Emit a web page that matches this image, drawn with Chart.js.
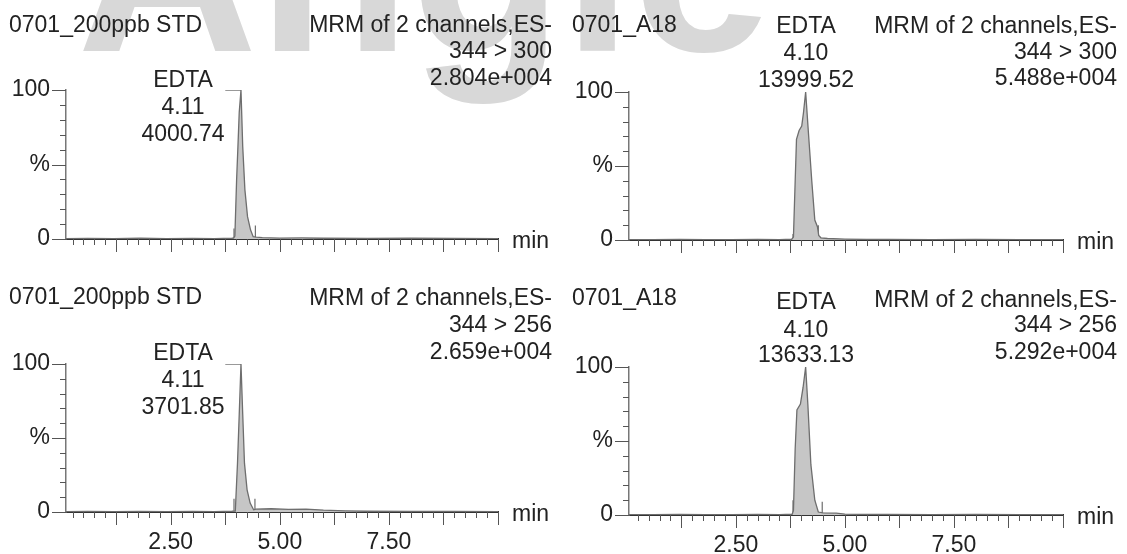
<!DOCTYPE html>
<html>
<head>
<meta charset="utf-8">
<script src="https://cdn.jsdelivr.net/npm/chart.js@4.4.1/dist/chart.umd.min.js"></script>
<style>
  body { margin: 0; background: #fff; }
  #page { position: relative; width: 1127px; height: 554px; overflow: hidden;
          font-family: "Liberation Sans", Arial, sans-serif; color: #222; }
  .panel { position: absolute; width: 564px; height: 277px; }
  .panel canvas { position: absolute; left: 0; top: 0; }
  .t { position: absolute; font-size: 23px; line-height: 23px; white-space: nowrap; }
  #mark { position: absolute; left: 77px; top: -160px; font-weight: bold;
          font-size: 250px; line-height: 250px; color: #d8d8d8; white-space: nowrap; }
</style>
</head>
<body>
<div id="page">
  <div id="mark">Angle</div>
</div>
<script>
// text of the four panels: TL, TR, BL, BR
const panelSample  = ['0701_200ppb STD', '0701_A18', '0701_200ppb STD', '0701_A18'];
const panelChannel = ['344 > 300', '344 > 300', '344 > 256', '344 > 256'];
const panelMax     = ['2.804e+004', '5.488e+004', '2.659e+004', '5.292e+004'];
const peakName     = ['EDTA', 'EDTA', 'EDTA', 'EDTA'];
const peakRT       = ['4.11', '4.10', '4.11', '4.10'];
const peakArea     = ['4000.74', '13999.52', '3701.85', '13633.13'];

// traces (time in min, intensity in %)
const stdTime300 = [0.1, 0.6, 1.2, 1.8, 2.4, 3.0, 3.5, 3.9, 3.94, 3.97, 4.01, 4.04, 4.07, 4.11, 4.15, 4.20, 4.26, 4.33, 4.39, 4.46, 4.6, 5.0, 5.5, 6.0, 7.0, 8.0, 9.0, 10.0];
const stdInt300  = [0.3, 0.4, 0.3, 0.5, 0.3, 0.4, 0.3, 0.5, 0.6, 2, 40, 62, 85, 100, 62, 33, 15, 6, 1.5, 1.2, 0.9, 0.6, 0.7, 0.5, 0.4, 0.5, 0.4, 0.3];

const a18Time300 = [0.05, 0.6, 1.2, 1.8, 2.4, 3.0, 3.5, 3.78, 3.82, 3.86, 3.89, 3.95, 4.01, 4.05, 4.10, 4.16, 4.24, 4.31, 4.37, 4.40, 4.45, 4.6, 5.0, 5.5, 6.0, 7.0, 8.0, 9.0, 10.0];
const a18Int300  = [0.3, 0.3, 0.4, 0.3, 0.3, 0.4, 0.3, 0.5, 2, 40, 68, 74, 77, 86, 100, 74, 40, 13.5, 9, 3, 1.5, 1.0, 0.6, 0.4, 0.4, 0.3, 0.4, 0.3, 0.3];

const stdTime256 = [0.1, 0.6, 1.2, 1.8, 2.4, 3.0, 3.5, 3.9, 3.98, 4.03, 4.07, 4.11, 4.15, 4.19, 4.25, 4.32, 4.40, 4.45, 4.8, 5.2, 5.6, 6.0, 6.5, 7.0, 8.0, 9.0, 10.0];
const stdInt256  = [0.3, 0.4, 0.3, 0.4, 0.3, 0.4, 0.3, 0.5, 0.6, 33, 66, 100, 66, 33, 15, 6, 1.5, 2, 2.2, 1.8, 2, 1.2, 0.8, 0.5, 0.4, 0.4, 0.3];

const a18Time256 = [0.05, 0.6, 1.2, 1.8, 2.4, 3.0, 3.5, 3.79, 3.82, 3.86, 3.90, 3.98, 4.04, 4.10, 4.15, 4.22, 4.31, 4.39, 4.5, 4.8, 5.0, 5.5, 6.0, 7.0, 8.0, 9.0, 10.0];
const a18Int256  = [0.3, 0.3, 0.4, 0.3, 0.3, 0.4, 0.3, 0.5, 3, 45, 71, 75, 86, 100, 75, 34, 10, 2, 1.5, 1.2, 0.6, 0.4, 0.4, 0.3, 0.4, 0.3, 0.3];

// integration marks [time, height %]
const stdDrop300 = [[3.95, 7], [4.44, 9]];
const a18Drop300 = [[3.81, 4], [4.39, 10]];
const stdDrop256 = [[3.95, 9], [4.43, 9]];
const a18Drop256 = [[3.81, 10], [4.48, 9]];

// peak label leader (left panels only): [from, to] in min
const stdLeader = [3.75, 4.11];

const xTickLabels = [2.5, 5.0, 7.5];
const yTicks = [0, 50, 100];
const yTickLabels = ['0', '%', '100'];

const traces = [
  [stdTime300, stdInt300, stdDrop300, stdLeader],
  [a18Time300, a18Int300, a18Drop300, null],
  [stdTime256, stdInt256, stdDrop256, stdLeader],
  [a18Time256, a18Int256, a18Drop256, null]
];

// layout, in panel coordinates
const boxes = [
  { left: 0,   top: 0,   w: 563, xMin: 0.10, area: [90, 239, 66, 498], showX: false,
    sample: [9, 32], head: [552, [32, 58.5, 85]], peak: [183, [87, 114, 141]], min: [512, 248] },
  { left: 563, top: 0,   w: 564, xMin: 0.05, area: [92, 240, 66, 500], showX: false,
    sample: [9, 32], head: [554, [33, 59, 85]], peak: [243, [33, 60, 87]], min: [514, 249] },
  { left: 0,   top: 277, w: 563, xMin: 0.10, area: [87, 235, 66, 498], showX: true,
    sample: [9, 27], head: [552, [28, 55, 82]], peak: [183, [83, 110, 137]], min: [512, 244] },
  { left: 563, top: 277, w: 564, xMin: 0.05, area: [90, 238, 66, 500], showX: true,
    sample: [9, 28], head: [554, [30, 55, 82]], peak: [243, [32, 60, 85]], min: [514, 247] }
];

const FONT = '"Liberation Sans", Arial, sans-serif';
const ASC = 19.5; // baseline offset for 23px text with 23px line-height

function addText(parent, text, x, base, align) {
  const d = document.createElement('div');
  d.className = 't';
  d.textContent = text;
  d.style.left = x + 'px';
  d.style.top = (base - ASC) + 'px';
  if (align === 'right') d.style.transform = 'translateX(-100%)';
  if (align === 'center') d.style.transform = 'translateX(-50%)';
  parent.appendChild(d);
}

const tickMarks = {
  id: 'tickMarks',
  afterDraw(chart) {
    const { ctx, scales: { x, y } } = chart;
    const y0 = y.getPixelForValue(0);
    const x0 = x.left;
    ctx.save();
    ctx.strokeStyle = '#555';
    ctx.lineWidth = 1;
    for (let i = 1; i <= 40; i++) {
      const v = i * 0.25;
      if (v < x.min || v > x.max) continue;
      const px = Math.round(x.getPixelForValue(v)) + 0.5;
      const len = i % 5 === 0 ? 13 : 6;
      ctx.beginPath(); ctx.moveTo(px, y0); ctx.lineTo(px, y0 + len); ctx.stroke();
    }
    for (let v = 0; v <= 100; v += 10) {
      const py = Math.round(y.getPixelForValue(v)) + 0.5;
      const len = v % 50 === 0 ? 14 : 6;
      ctx.beginPath(); ctx.moveTo(x0, py); ctx.lineTo(x0 - len, py); ctx.stroke();
    }
    ctx.restore();
  }
};

const page = document.getElementById('page');

boxes.forEach((b, i) => {
  const [time, inten, drops, leader] = traces[i];
  const p = document.createElement('div');
  p.className = 'panel';
  p.style.left = b.left + 'px';
  p.style.top = b.top + 'px';
  const cv = document.createElement('canvas');
  cv.width = b.w; cv.height = 277;
  p.appendChild(cv);
  page.appendChild(p);

  addText(p, panelSample[i], b.sample[0], b.sample[1], 'left');
  addText(p, 'MRM of 2 channels,ES-', b.head[0], b.head[1][0], 'right');
  addText(p, panelChannel[i], b.head[0], b.head[1][1], 'right');
  addText(p, panelMax[i], b.head[0], b.head[1][2], 'right');
  addText(p, peakName[i], b.peak[0], b.peak[1][0], 'center');
  addText(p, peakRT[i], b.peak[0], b.peak[1][1], 'center');
  addText(p, peakArea[i], b.peak[0], b.peak[1][2], 'center');
  addText(p, 'min', b.min[0], b.min[1], 'left');

  const [aTop, aBottom, aLeft, aRight] = b.area;
  const dropData = [];
  drops.forEach(d => {
    dropData.push({ x: d[0], y: 0 }, { x: d[0], y: d[1] }, { x: d[0], y: null });
  });
  const datasets = [
    { data: time.map((t, k) => ({ x: t, y: inten[k] })), borderColor: '#6e6e6e', borderWidth: 1.3,
      backgroundColor: '#c6c6c6', fill: 'origin', pointRadius: 0, tension: 0 },
    { data: dropData, borderColor: '#6e6e6e', borderWidth: 1.2, pointRadius: 0, fill: false, spanGaps: false }
  ];
  if (leader) {
    datasets.push({ data: [{ x: leader[0], y: 100 }, { x: leader[1], y: 100 }],
      borderColor: '#777', borderWidth: 1.5, pointRadius: 0, fill: false });
  }

  new Chart(cv, {
    type: 'line',
    data: { datasets },
    options: {
      responsive: false,
      animation: false,
      events: [],
      layout: { padding: { top: aTop, right: b.w - aRight, left: 0, bottom: 0 } },
      plugins: { legend: { display: false }, tooltip: { enabled: false } },
      scales: {
        x: {
          type: 'linear', min: b.xMin, max: 10.0, z: 1,
          grid: { display: false, drawTicks: false },
          border: { display: true, color: '#333', width: 2 },
          afterBuildTicks: s => { s.ticks = xTickLabels.map(v => ({ value: v })); },
          afterFit: s => { s.height = 277 - aBottom; },
          ticks: { display: b.showX, padding: 17, maxRotation: 0, autoSkip: false, color: '#222',
                   font: { family: FONT, size: 23 }, callback: v => v.toFixed(2) }
        },
        y: {
          min: 0, max: 100,
          grid: { display: false, drawTicks: false },
          border: { display: true, color: '#777', width: 1.5 },
          afterBuildTicks: s => { s.ticks = yTicks.map(v => ({ value: v })); },
          afterFit: s => { s.width = aLeft; },
          ticks: { padding: 16, color: '#222', font: { family: FONT, size: 23 },
                   callback: v => yTickLabels[yTicks.indexOf(v)] }
        }
      }
    },
    plugins: [tickMarks]
  });
});
</script>
</body>
</html>
